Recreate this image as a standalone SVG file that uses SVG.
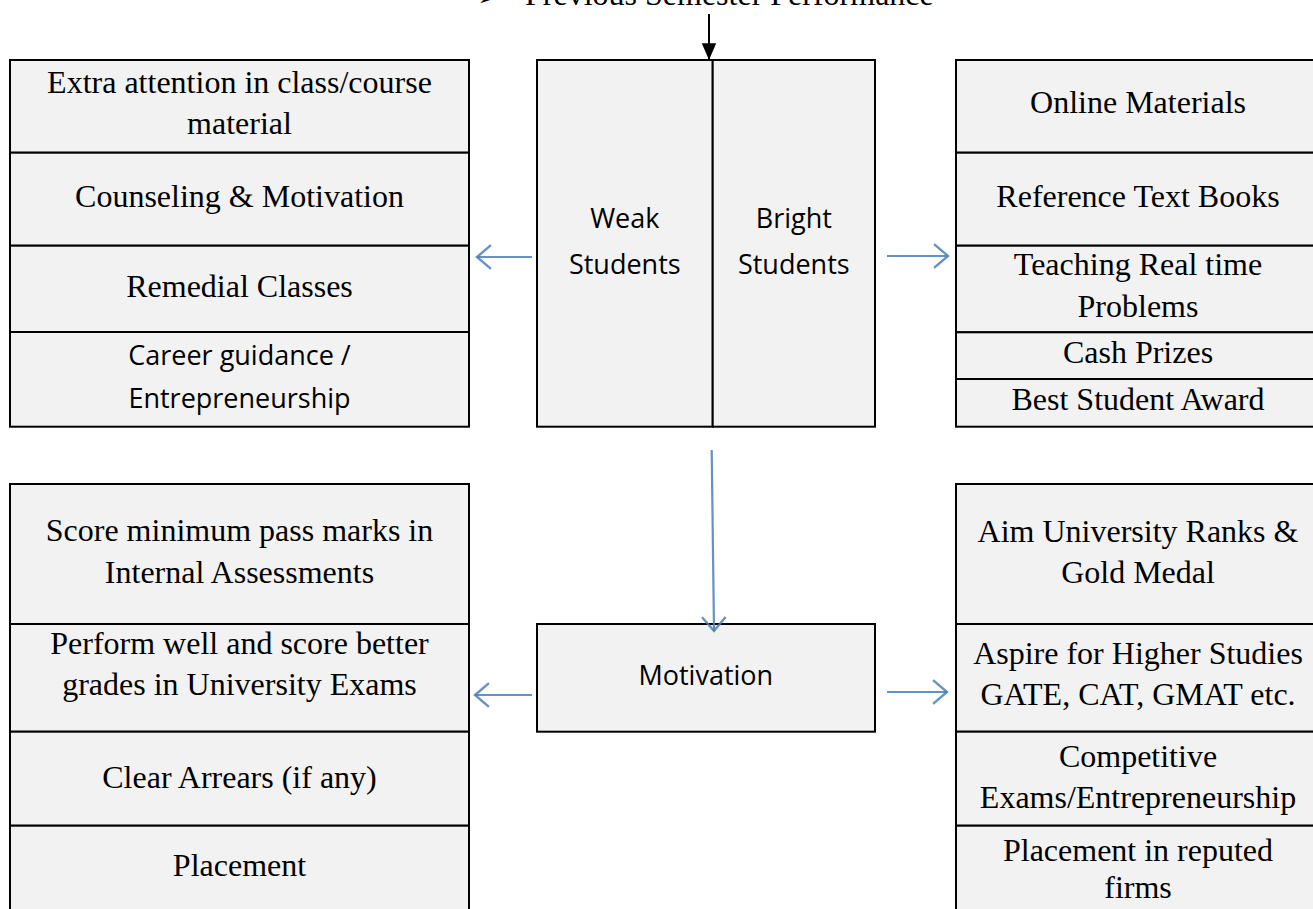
<svg xmlns="http://www.w3.org/2000/svg" width="1313" height="909" viewBox="0 0 1313 909">
<style>
.cell{fill:#f2f2f2;stroke:#000;stroke-width:2}
.s{font-family:"Liberation Serif","Times New Roman",serif;font-size:32px;fill:#000;text-anchor:middle}
.c{font-family:"Open Sans","Liberation Sans",sans-serif;font-size:27px;fill:#000;text-anchor:middle}
.blue{stroke:#4a7ebb;stroke-width:2.2;fill:none;stroke-opacity:0.85}
.blk{stroke:#000;stroke-width:2;fill:none}
</style>
<defs>
<marker id="chev" markerUnits="userSpaceOnUse" markerWidth="30" markerHeight="30" viewBox="-16 -14 20 28" refX="0" refY="0" orient="auto">
<path d="M-13,-11 L0,0 L-13,11" fill="none" stroke="#4a7ebb" stroke-width="2.2" stroke-opacity="0.85"/>
</marker>
<marker id="tri" markerUnits="userSpaceOnUse" markerWidth="20" markerHeight="20" viewBox="-16 -8 18 16" refX="0" refY="0" orient="auto">
<path d="M-15,-6.5 L0,0 L-15,6.5 Z" fill="#000"/>
</marker>
</defs>

<g id="title">
<text x="478" y="5" style="font-family:'DejaVu Sans',sans-serif;font-size:20px;fill:#000">➢</text>
<text x="525" y="5" class="s" style="text-anchor:start">Previous Semester Performance</text>
</g>

<g id="weak-actions">
<g id="extra-attention"><rect class="cell" x="10" y="60" width="459" height="92.7"/>
<text class="s" x="239.5" y="93">Extra attention in class/course</text><text class="s" x="239.5" y="134">material</text></g>
<g id="counseling"><rect class="cell" x="10" y="152.7" width="459" height="93"/>
<text class="s" x="239.5" y="207">Counseling &amp; Motivation</text></g>
<g id="remedial"><rect class="cell" x="10" y="245.7" width="459" height="86.3"/>
<text class="s" x="239.5" y="297">Remedial Classes</text></g>
<g id="career"><rect class="cell" x="10" y="332" width="459" height="94.7"/>
<text class="c" x="239.5" y="365">Career guidance /</text><text class="c" x="239.5" y="408">Entrepreneurship</text></g>
</g>

<g id="students">
<g id="weak-students"><rect class="cell" x="537" y="60" width="175.7" height="366.7"/>
<text class="c" x="624.8" y="228">Weak</text><text class="c" x="624.8" y="274">Students</text></g>
<g id="bright-students"><rect class="cell" x="712.7" y="60" width="162.3" height="366.7"/>
<text class="c" x="793.8" y="228">Bright</text><text class="c" x="793.8" y="274">Students</text></g>
</g>

<g id="bright-actions">
<g id="online"><rect class="cell" x="956" y="60" width="364" height="92.7"/>
<text class="s" x="1138" y="113">Online Materials</text></g>
<g id="reference"><rect class="cell" x="956" y="152.7" width="364" height="93"/>
<text class="s" x="1138" y="207">Reference Text Books</text></g>
<g id="teaching"><rect class="cell" x="956" y="245.7" width="364" height="86.6"/>
<text class="s" x="1138" y="275">Teaching Real time</text><text class="s" x="1138" y="317">Problems</text></g>
<g id="cash"><rect class="cell" x="956" y="332.3" width="364" height="46.7"/>
<text class="s" x="1138" y="363">Cash Prizes</text></g>
<g id="best"><rect class="cell" x="956" y="379" width="364" height="47.7"/>
<text class="s" x="1138" y="410">Best Student Award</text></g>
</g>

<g id="motivation"><rect class="cell" x="537" y="624" width="338" height="107.7"/>
<text class="c" x="705.8" y="685">Motivation</text></g>

<g id="weak-goals">
<g id="score"><rect class="cell" x="10" y="484" width="459" height="140"/>
<text class="s" x="239.5" y="541">Score minimum pass marks in</text><text class="s" x="239.5" y="583">Internal Assessments</text></g>
<g id="perform"><rect class="cell" x="10" y="624" width="459" height="107.7"/>
<text class="s" x="239.5" y="654">Perform well and score better</text><text class="s" x="239.5" y="695">grades in University Exams</text></g>
<g id="arrears"><rect class="cell" x="10" y="731.7" width="459" height="94"/>
<text class="s" x="239.5" y="788">Clear Arrears (if any)</text></g>
<g id="placement"><rect class="cell" x="10" y="825.7" width="459" height="100"/>
<text class="s" x="239.5" y="876">Placement</text></g>
</g>

<g id="bright-goals">
<g id="aim"><rect class="cell" x="956" y="484" width="364" height="140"/>
<text class="s" x="1138" y="542">Aim University Ranks &amp;</text><text class="s" x="1138" y="583">Gold Medal</text></g>
<g id="aspire"><rect class="cell" x="956" y="624" width="364" height="107.7"/>
<text class="s" x="1138" y="664">Aspire for Higher Studies</text><text class="s" x="1138" y="705">GATE, CAT, GMAT etc.</text></g>
<g id="competitive"><rect class="cell" x="956" y="731.7" width="364" height="94"/>
<text class="s" x="1138" y="767">Competitive</text><text class="s" x="1138" y="808">Exams/Entrepreneurship</text></g>
<g id="placement-reputed"><rect class="cell" x="956" y="825.7" width="364" height="100"/>
<text class="s" x="1138" y="861">Placement in reputed</text><text class="s" x="1138" y="898">firms</text></g>
</g>

<g id="connectors">
<line class="blk" x1="709" y1="14" x2="709" y2="60" marker-end="url(#tri)"/>
<line class="blue" x1="532" y1="257" x2="477" y2="257" marker-end="url(#chev)"/>
<line class="blue" x1="887" y1="256" x2="948" y2="256" marker-end="url(#chev)"/>
<line class="blue" x1="711.7" y1="450" x2="714" y2="631" marker-end="url(#chev)"/>
<line class="blue" x1="532" y1="695" x2="475" y2="695" marker-end="url(#chev)"/>
<line class="blue" x1="887" y1="692" x2="947" y2="692" marker-end="url(#chev)"/>
</g>
</svg>
